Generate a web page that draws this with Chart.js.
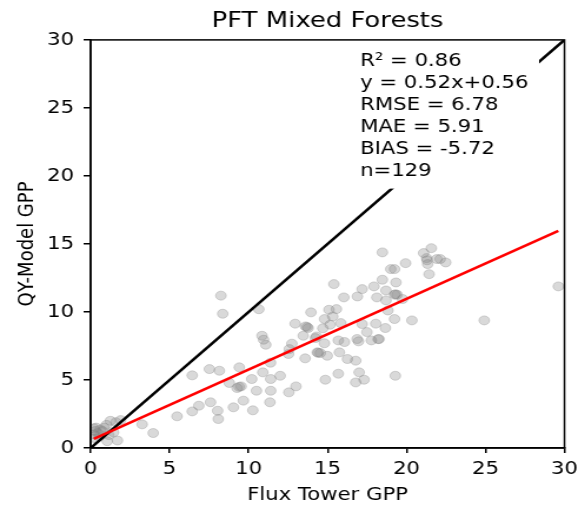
<!DOCTYPE html>
<html>
<head>
<meta charset="utf-8">
<script src="https://cdn.jsdelivr.net/npm/chart.js@4/dist/chart.umd.min.js"></script>
<style>
  html, body { margin: 0; padding: 0; background: #fff; overflow: hidden; }
  #wrap { width: 497px; height: 506px; transform: scaleX(1.1771); transform-origin: 0 0; }
</style>
</head>
<body>
<div id="wrap"><canvas id="gppChart" width="497" height="506"></canvas></div>
<script>
// flux tower GPP (x) vs model GPP (y), one entry per site-period
var fluxGpp = [
  0.2, 0.3, 0.35, 0.2, 0.45, 0.6, 0.55, 0.85, 0.75, 1.05, 1.15, 1.25, 1.45, 1.7, 1.9, 1.0, 1.6, 0.3,
  8.25, 8.36, 10.65, 6.43, 7.52, 8.15, 9.41, 8.78, 9.27, 9.53, 10.2, 10.9, 11.4, 12.0, 11.4, 10.5,
  12.55, 13.0, 11.35, 9.67, 9.04, 10.27, 7.59, 6.85, 6.43, 8.04, 8.08, 5.47, 3.26, 3.96,
  10.85, 10.95, 11.09, 11.39, 12.58, 12.74, 12.53, 12.95, 13.6, 13.77, 13.46, 13.58, 13.95, 14.23,
  14.35, 14.54, 14.81, 14.98, 14.86, 15.09, 15.33, 15.56, 15.4, 15.16, 15.84, 15.68, 16.07, 15.75,
  16.03, 16.26, 16.78, 15.68, 16.78, 17.31, 17.0, 16.87, 16.96, 17.19, 17.49, 16.89, 17.19, 17.94,
  17.77, 18.05, 18.12, 18.26, 18.47, 18.47, 18.7, 18.7, 18.82, 18.66, 19.0, 19.24, 19.33, 19.24,
  19.4, 19.24, 19.29, 19.94, 19.75, 20.34, 21.08, 21.27, 21.34, 21.57, 21.43, 21.92, 22.13, 22.48,
  24.92, 29.61,
  13.7, 14.4, 18.2, 19.3, 9.4, 21.3, 14.7, 14.3, 14.8
];
var modelGpp = [
  1.45, 1.25, 1.5, 1.0, 1.1, 1.35, 0.85, 1.5, 1.25, 0.5, 0.95, 2.0, 1.15, 0.55, 2.05, 1.7, 1.9, 0.7,
  11.2, 9.87, 10.2, 5.34, 5.8, 5.68, 5.93, 4.78, 4.41, 4.53, 5.07, 5.56, 5.07, 5.31, 4.21, 4.21,
  4.09, 4.53, 3.36, 3.48, 2.99, 2.77, 3.36, 3.11, 2.69, 2.74, 2.13, 2.33, 1.74, 1.1,
  8.25, 7.96, 7.59, 6.27, 7.27, 7.67, 6.91, 9.14, 8.94, 8.82, 8.25, 6.59, 9.97, 8.08,
  7.03, 6.98, 9.48, 6.78, 5.02, 10.16, 9.67, 10.21, 12.05, 9.06, 9.18, 7.91, 7.79, 7.03,
  11.07, 6.54, 6.42, 5.46, 4.82, 5.02, 5.56, 8.01, 7.84, 9.11, 8.52, 11.14, 11.68, 11.88,
  7.91, 9.14, 11.07, 8.01, 14.38, 12.37, 11.58, 10.85, 10.11, 8.82, 13.15, 13.15, 12.17, 11.27,
  11.27, 9.48, 5.31, 13.59, 10.95, 9.38, 14.33, 13.96, 13.52, 14.69, 12.78, 13.89, 13.89, 13.64,
  9.38, 11.88,
  8.9, 7.0, 8.0, 11.3, 4.5, 13.8, 8.8, 8.2, 7.7
];

// least-squares fit and error stats
var fitSlope = 0.52;
var fitIntercept = 0.56;
var statLines = [
  "R\u00b2 = 0.86",
  "y = " + fitSlope.toFixed(2) + "x+" + fitIntercept.toFixed(2),
  "RMSE = 6.78",
  "MAE = 5.91",
  "BIAS = -5.72",
  "n=129"
];
var axisTicks = [0, 5, 10, 15, 20, 25, 30];

var FONT = "'DejaVu Sans', sans-serif";

var scatterPts = fluxGpp.map(function (x, i) { return { x: x, y: modelGpp[i] }; });
var xMin = Math.min.apply(null, fluxGpp);
var xMax = Math.max.apply(null, fluxGpp);
var fitLine = [xMin, xMax].map(function (x) { return { x: x, y: fitSlope * x + fitIntercept }; });
var lo = axisTicks[0], hi = axisTicks[axisTicks.length - 1];
var oneToOne = [{ x: lo, y: lo }, { x: hi, y: hi }];

// text box with the stats, plus the closed frame round the axes
var statsBox = {
  id: "statsBox",
  afterDatasetsDraw: function (chart) {
    var ctx = chart.ctx, s = chart.scales;
    var x0 = s.x.getPixelForValue(17.06);
    var y0 = s.y.getPixelForValue(28.11);
    var step = 22, pad = 9;
    ctx.save();
    ctx.font = "18px " + FONT;
    var w = Math.max.apply(null, statLines.map(function (t) { return ctx.measureText(t).width; }));
    ctx.fillStyle = "#fff";
    ctx.fillRect(x0 - pad, y0 - 14 - pad, w + 2 * pad, (statLines.length - 1) * step + 18 + 2 * pad);
    ctx.fillStyle = "#000";
    ctx.textBaseline = "alphabetic";
    ctx.textAlign = "left";
    statLines.forEach(function (t, i) { ctx.fillText(t, x0, y0 + i * step); });
    var a = chart.chartArea;
    ctx.strokeStyle = "#000";
    ctx.lineWidth = 1.5;
    ctx.strokeRect(a.left, a.top, a.right - a.left, a.bottom - a.top);
    ctx.restore();
  }
};

var ctx = document.getElementById("gppChart").getContext("2d");
new Chart(ctx, {
  type: "scatter",
  data: {
    datasets: [
      {
        label: "1:1",
        type: "line",
        data: oneToOne,
        borderColor: "#000",
        borderWidth: 2.6,
        pointRadius: 0,
        fill: false,
        order: 1
      },
      {
        label: "fit",
        type: "line",
        data: fitLine,
        borderColor: "#ff0000",
        borderWidth: 2.6,
        pointRadius: 0,
        fill: false,
        order: 0
      },
      {
        label: "sites",
        data: scatterPts,
        backgroundColor: "rgba(128,128,128,0.3)",
        borderColor: "rgba(128,128,128,0.3)",
        borderWidth: 1,
        pointRadius: 4.5,
        order: 2
      }
    ]
  },
  options: {
    responsive: false,
    animation: false,
    layout: { padding: { left: 0, right: 11, top: 0, bottom: 0 } },
    plugins: {
      legend: { display: false },
      tooltip: { enabled: false },
      title: {
        display: true,
        text: "PFT Mixed Forests",
        fullSize: false,
        color: "#000",
        font: { family: FONT, size: 22, weight: "normal" },
        padding: { top: 8.5, bottom: 5 }
      }
    },
    scales: {
      x: {
        type: "linear",
        min: lo,
        max: hi,
        afterBuildTicks: function (scale) { scale.ticks = axisTicks.map(function (v) { return { value: v }; }); },
        afterFit: function (scale) { scale.height = 58; },
        ticks: { color: "#000", font: { family: FONT, size: 18 }, padding: 6, maxRotation: 0 },
        grid: { display: true, drawOnChartArea: false, drawTicks: true, tickLength: 5, color: "#000", lineWidth: 1.5 },
        border: { display: true, color: "#000", width: 1.5 },
        title: { display: true, text: "Flux Tower GPP", color: "#000", font: { family: FONT, size: 18 }, padding: { top: 0, bottom: 0 } }
      },
      y: {
        type: "linear",
        min: lo,
        max: hi,
        afterBuildTicks: function (scale) { scale.ticks = axisTicks.map(function (v) { return { value: v }; }); },
        afterFit: function (scale) { scale.width = 77; },
        ticks: { color: "#000", font: { family: FONT, size: 18 }, padding: 8 },
        grid: { display: true, drawOnChartArea: false, drawTicks: true, tickLength: 6, color: "#000", lineWidth: 1.5 },
        border: { display: true, color: "#000", width: 1.5 },
        title: { display: true, text: "QY-Model GPP", color: "#000", font: { family: FONT, size: 18 }, padding: { top: 13, bottom: 0 } }
      }
    }
  },
  plugins: [statsBox]
});
</script>
</body>
</html>
